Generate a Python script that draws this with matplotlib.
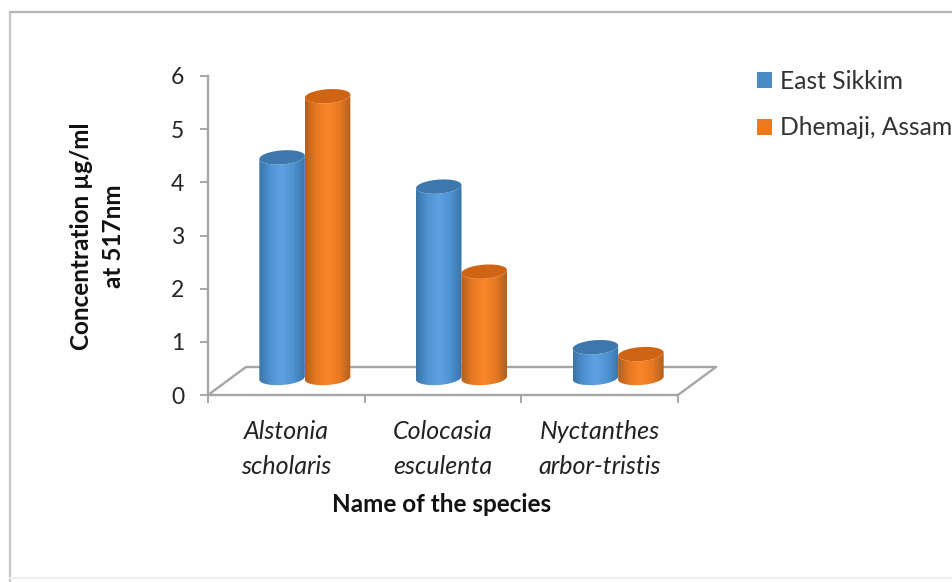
import numpy as np
import matplotlib
matplotlib.use("Agg")
import matplotlib.pyplot as plt
from matplotlib.patches import Patch, PathPatch
from matplotlib.path import Path
from matplotlib.colors import LinearSegmentedColormap
from matplotlib.lines import Line2D

categories = ["Alstonia\nscholaris", "Colocasia\nesculenta", "Nyctanthes\narbor-tristis"]
series_names = ["East Sikkim", "Dhemaji, Assam"]
east_sikkim = [4.15, 3.6, 0.58]
dhemaji_assam = [5.3, 2.0, 0.45]
y_ticks = [0, 1, 2, 3, 4, 5, 6]

W, H = 953, 582
plt.rcParams['font.family'] = ['Lato', 'Open Sans', 'DejaVu Sans']
fig = plt.figure(figsize=(W / 100, H / 100), dpi=100, facecolor="#fefefe")
L, R, T, B = 208, 678, 76, 395
ax = fig.add_axes([L / W, 1 - B / H, (R - L) / W, (B - T) / H])
ax.patch.set_alpha(0)

# Frame of the picture
for xs, ys, c in [((10, W), (12, 12), "#b4b4b4"), ((10, 10), (12, H), "#c4c4c4"), ((10, W), (578, 578), "#efefef")]:
    fig.add_artist(Line2D(np.array(xs) / W, 1 - np.array(ys) / H, color=c, lw=1.6))

px_x = 3 / (R - L)
px_y = 6 / (B - T)
grey = "#a6a6a6"
depth_x, depth_y = 38 * px_x, 28 * px_y
floor_x = [0, depth_x, 3 + depth_x, 3, 0]
floor_y = [0, depth_y, depth_y, 0, 0]
ax.plot(floor_x, floor_y, color=grey, lw=1.7, clip_on=False, zorder=1)

bar_w = 45.5 * px_x
base = 17 * px_y
cap_h = 7 * px_y
tilt = -1.6 * px_y
offset = 18.5 * px_x
t_low = np.linspace(np.pi, 2 * np.pi, 40)
t_all = np.linspace(0, 2 * np.pi, 80)


def rim(cx, y, t):
    return cx + bar_w / 2 * np.cos(t), y + cap_h * np.sin(t) - tilt * np.cos(t)


def shades(dark, mid, light):
    return LinearSegmentedColormap.from_list("s", [dark, mid, light, mid, dark])


styles = [
    (shades("#3a74a8", "#4f93d2", "#5ea2e2"), "#3d78ad"),
    (shades("#b3601f", "#e87a22", "#fb8629"), "#cf6514"),
]
grad = np.linspace(0, 1, 64).reshape(1, -1)

for s, values in enumerate([east_sikkim, dhemaji_assam]):
    cmap, cap_col = styles[s]
    for i, v in enumerate(values):
        z = 3 + i + s * 0.5
        cx = i + 0.5 + offset + (s - 0.5) * bar_w
        top = base + v
        xb, yb = rim(cx, base, t_low)
        xt, yt = rim(cx, top, t_low[::-1])
        body = Path(np.column_stack([np.r_[xb, xt], np.r_[yb, yt]]))
        im = ax.imshow(grad, cmap=cmap, aspect="auto", zorder=z, interpolation="bilinear",
                       extent=[cx - bar_w / 2, cx + bar_w / 2, base - 3 * cap_h, top + 3 * cap_h])
        clip = PathPatch(body, transform=ax.transData, fc="none", ec="none")
        ax.add_patch(clip)
        im.set_clip_path(clip)
        xc, yc = rim(cx, top, t_all)
        ax.fill(xc, yc, color=cap_col, zorder=z + 0.1, lw=0, clip_on=False)

ax.set_xlim(0, 3)
ax.set_ylim(0, 6)
for sp in ["top", "right", "bottom"]:
    ax.spines[sp].set_visible(False)
ax.spines["left"].set_color(grey)
ax.spines["left"].set_linewidth(1.7)
ax.set_yticks(y_ticks)
ax.set_xticks([0, 1, 2, 3])
ax.set_xticklabels([])
ax.tick_params(axis="both", color=grey, width=1.4, length=6)
ax.tick_params(axis="y", labelsize=16.5, labelcolor="#262626", pad=11)

for i, c in enumerate(categories):
    ax.annotate(c, xy=(i + 0.5, 0), xytext=(0, -25 * 0.72), textcoords="offset points",
                ha="center", va="top", fontsize=18, style="italic", color="#222222", linespacing=1.62)

fig.text(442 / W, 1 - 504 / H, "Name of the species", ha="center", va="center",
         fontsize=17.5, fontweight="bold", color="#111111")
fig.text(97.5 / W, 1 - 236 / H, "Concentration µg/ml\nat 517nm", ha="center", va="center", rotation=90,
         fontsize=17.5, fontweight="bold", color="#111111", linespacing=1.45, multialignment="center")

handles = [Patch(fc="#4a8bc8", ec="none"), Patch(fc="#ee7a1e", ec="none")]
fig.legend(handles, series_names, loc="upper left", bbox_to_anchor=(757 / W, 1 - 70 / H), frameon=False,
           fontsize=17.7, handlelength=0.62, handleheight=0.62, handletextpad=0.3, labelspacing=0.95,
           borderpad=0, borderaxespad=0, labelcolor="#333333")

fig.savefig("out.png", dpi=100, facecolor=fig.get_facecolor())
